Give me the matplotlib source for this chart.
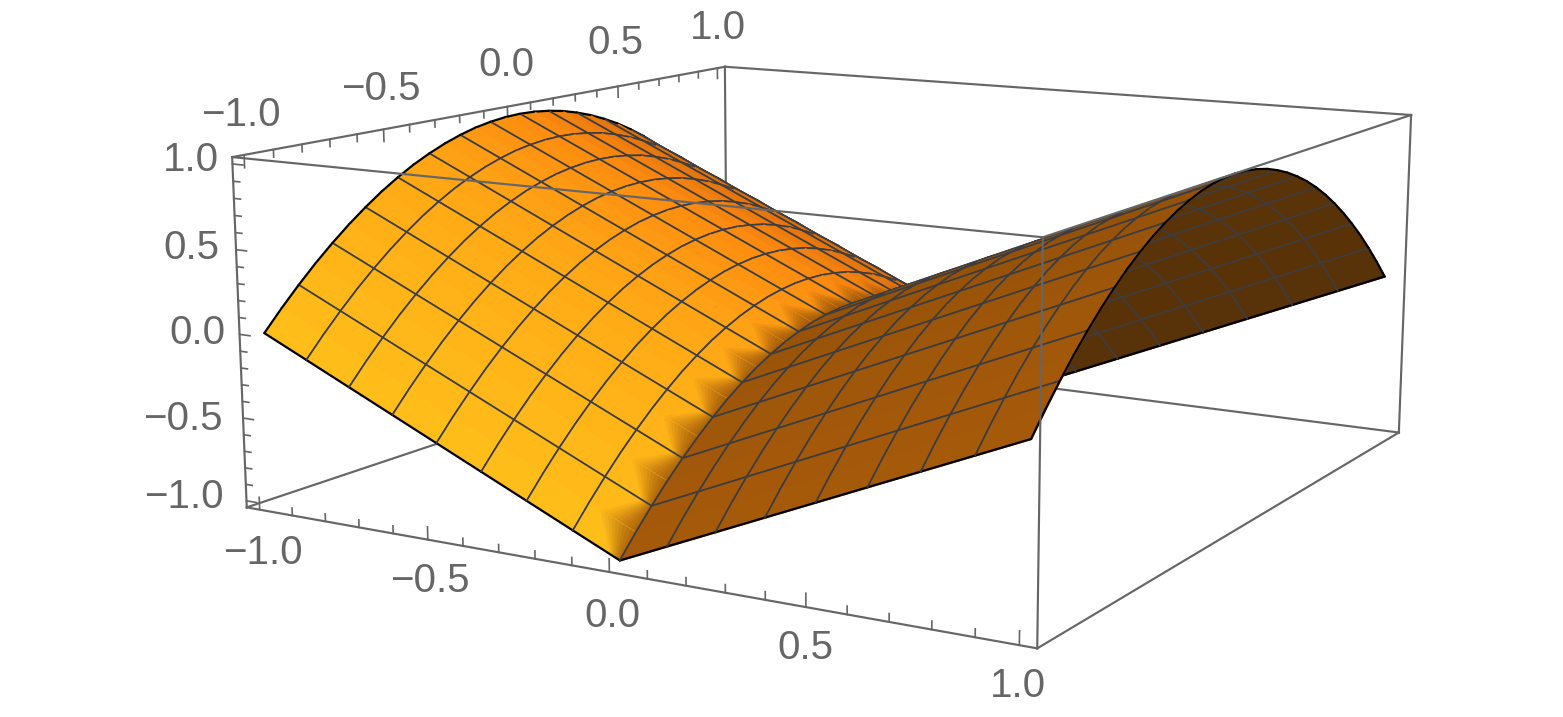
import numpy as np
import matplotlib
matplotlib.use("Agg")
import matplotlib.pyplot as plt
from mpl_toolkits.mplot3d.art3d import Poly3DCollection, Line3DCollection

# ---- data -----------------------------------------------------------------
x_grid = [-1, -.875, -.75, -.625, -.5, -.375, -.25, -.125, 0, .125, .25, .375, .5, .625, .75, .875, 1]
y_grid = [-1, -.9375, -.875, -.8125, -.75, -.6875, -.625, -.5625, -.5, -.4375, -.375, -.3125, -.25, -.1875, -.125, -.0625, 0,
          .0625, .125, .1875, .25, .3125, .375, .4375, .5, .5625, .625, .6875, .75, .8125, .875, .9375, 1]
z_at_x_100 = [0, .121, .234, .34, .437, .527, .609, .684, .75, .809, .859, .902, .937, .965, .984, .996, 1,
              .996, .984, .965, .937, .902, .859, .809, .75, .684, .609, .527, .437, .34, .234, .121, 0]
z_at_x_088 = [-.125, -.004, .109, .215, .312, .402, .484, .559, .625, .684, .734, .777, .812, .84, .859, .871, .875,
              .871, .859, .84, .812, .777, .734, .684, .625, .559, .484, .402, .312, .215, .109, -.004, -.125]
z_at_x_075 = [-.25, -.129, -.016, .09, .187, .277, .359, .434, .5, .559, .609, .652, .687, .715, .734, .746, .75,
              .746, .734, .715, .687, .652, .609, .559, .5, .434, .359, .277, .187, .09, -.016, -.129, -.25]
z_at_x_062 = [-.375, -.254, -.141, -.035, .062, .152, .234, .309, .375, .434, .484, .527, .562, .59, .609, .621, .625,
              .621, .609, .59, .562, .527, .484, .434, .375, .309, .234, .152, .062, -.035, -.141, -.254, -.375]
z_at_x_050 = [-.5, -.379, -.266, -.16, -.063, .027, .109, .184, .25, .309, .359, .402, .437, .465, .484, .496, .5,
              .496, .484, .465, .437, .402, .359, .309, .25, .184, .109, .027, -.063, -.16, -.266, -.379, -.5]
z_at_x_038 = [-.625, -.504, -.391, -.285, -.188, -.098, -.016, .059, .125, .184, .234, .277, .312, .34, .359, .371, .375,
              .371, .359, .34, .312, .277, .234, .184, .125, .059, -.016, -.098, -.188, -.285, -.391, -.504, -.625]
z_at_x_025 = [-.75, -.629, -.516, -.41, -.313, -.223, -.141, -.066, 0, .059, .109, .152, .187, .215, .234, .246, .25,
              .246, .234, .215, .187, .152, .109, .059, 0, -.066, -.141, -.223, -.313, -.41, -.516, -.629, -.75]
z_at_x_012 = [-.875, -.754, -.641, -.535, -.438, -.348, -.266, -.191, -.125, -.066, -.016, .027, .062, .09, .109, .121, .125,
              .121, .109, .09, .062, .027, -.016, -.066, -.125, -.191, -.266, -.348, -.438, -.535, -.641, -.754, -.875]
z_at_x_000 = [-1, -.879, -.766, -.66, -.563, -.473, -.391, -.316, -.25, -.191, -.141, -.098, -.063, -.035, -.016, -.004, 0,
              -.004, -.016, -.035, -.063, -.098, -.141, -.191, -.25, -.316, -.391, -.473, -.563, -.66, -.766, -.879, -1]
z_rows = [z_at_x_100, z_at_x_088, z_at_x_075, z_at_x_062, z_at_x_050, z_at_x_038, z_at_x_025, z_at_x_012, z_at_x_000,
          z_at_x_012, z_at_x_025, z_at_x_038, z_at_x_050, z_at_x_062, z_at_x_075, z_at_x_088, z_at_x_100]
major_ticks = [-1.0, -0.5, 0.0, 0.5, 1.0]
minor_ticks = [-.9, -.8, -.7, -.6, -.4, -.3, -.2, -.1, .1, .2, .3, .4, .6, .7, .8, .9]
tick_labels = ["\u22121.0", "\u22120.5", "0.0", "0.5", "1.0"]
box_limit = 1.04

# ---- layout / style -------------------------------------------------------
W, H = 1563, 717
GREY = "#666666"
MESH = "#3d3d40"
# camera calibration: cube corner -> pixel
calib = [
    ((-1, -1,  1), (232, 157)), ((-1,  1,  1), (725, 67)),
    (( 1, -1,  1), (1043, 237)), (( 1,  1,  1), (1411, 115)),
    ((-1, -1, -1), (247, 508)), ((-1,  1, -1), (727, 346)),
    (( 1, -1, -1), (1037, 648)), (( 1,  1, -1), (1399, 433)),
]
y_label_px = [(241, 115), (381, 89), (506, 65), (615, 43), (718, 28)]
z_label_px = [(184, 497), (183, 419), (197, 333), (191, 248), (191, 160)]
x_label_px = [(263, 553), (430, 581), (612, 616), (805, 648), (1018, 686)]

rows = []
for (c, (u, v)) in calib:
    X = np.array([*(np.array(c) * box_limit), 1.0])
    rows.append(np.r_[X, np.zeros(4), -u * X])
    rows.append(np.r_[np.zeros(4), X, -v * X])
P = np.linalg.svd(np.array(rows))[2][-1].reshape(3, 4)
P = P / P[2, 3]
camera = np.linalg.svd(P)[2][-1]
camera = camera[:3] / camera[3]
M = np.vstack([P[0], P[1], P[2] - np.array([0, 0, 0, .5]), P[2]])

fig = plt.figure(figsize=(W / 100, H / 100), dpi=100, facecolor="white")
ax = fig.add_axes([0, 0, 1, 1], projection="3d")
ax.set_axis_off()
ax.computed_zorder = False
ax.get_proj = lambda: M
ax.apply_aspect = lambda position=None: None
ax.viewLim.intervalx = (0, W)
ax.viewLim.intervaly = (H, 0)

xs = np.array(x_grid)
ys = np.array(y_grid)
Z = np.array(z_rows)


def ramp(t, knots, colours):
    return np.array([np.interp(t, knots, [c[k] for c in colours]) / 255 for k in range(3)])


def facet_colour(xm, ym, centre, normal):
    if np.dot(normal, camera - centre) < 0:        # seen from below
        return ramp(ym, [0, 1], [(92, 52, 8), (88, 50, 8)])
    if xm < 0:
        return ramp(ym, [-1, -.5, 0, .25, .5, 1],
                    [(255, 190, 26), (255, 170, 22), (253, 140, 16), (235, 122, 14), (212, 108, 14), (200, 100, 15)])
    return ramp(ym, [-1, 0, 1], [(166, 90, 10), (146, 80, 9), (146, 80, 9)])


def depth(p):
    return P[2] @ np.r_[p, 1.0]


zo = [10]


def poly(q, col, seam=.8):
    ax.add_collection3d(Poly3DCollection([q], facecolors=[col], edgecolors=[col], linewidths=seam, zorder=zo[0]),
                        autolim=False)
    zo[0] += 1


def line(q, col, lw):
    ax.add_collection3d(Line3DCollection([q], colors=col, linewidths=lw, zorder=zo[0], capstyle="round"),
                        autolim=False)
    zo[0] += 1


order = []
for i in range(16):
    for j in range(32):
        c = np.array([[xs[a], ys[b], Z[a, b]] for a, b in ((i, j), (i + 1, j), (i + 1, j + 1), (i, j + 1))]).mean(axis=0)
        order.append((depth(c), i, j))
order.sort(key=lambda t: -t[0])

CREASE_STEPS = [.095, .085, .075, .065, .055, .045, .035, .025, .015, .007]
CREASE_MIX = [.08, .16, .26, .36, .47, .58, .68, .78, .87, .94]
for _, i, j in order:
    q = np.array([[xs[a], ys[b], Z[a, b]] for a, b in ((i, j), (i + 1, j), (i + 1, j + 1), (i, j + 1))])
    c = q.mean(axis=0)
    n = np.cross(q[2] - q[0], q[3] - q[1])
    if n[2] < 0:
        n = -n
    col = facet_colour(c[0], c[1], c, n)
    poly(q, col)
    if i == 7:                                     # soft toothed shading next to the crease
        tip, val = (j + 1, j) if j % 2 == 0 else (j, j + 1)
        dark = ramp(c[1], [-1, 0, 1], [(170, 96, 12), (150, 84, 10), (146, 80, 9)])
        for d, mix in zip(CREASE_STEPS, CREASE_MIX):
            dv = d * .3
            t = [xs[8] - d, ys[tip], Z[8, tip] + d]
            v = [xs[8] - dv, ys[val], Z[8, val] + dv]
            poly(np.array([[xs[8], ys[tip], Z[8, tip]], t, v, [xs[8], ys[val], Z[8, val]]]),
                 col * (1 - mix) + dark * mix, seam=0)
    # mesh lines on this facet's sides
    for a, b in (((i, j), (i + 1, j)), ((i + 1, j + 1), (i, j + 1))):
        jj = a[1]
        if jj % 2 == 0:
            seg3 = np.array([[xs[p], ys[r], Z[p, r]] for p, r in (a, b)])
            if jj in (0, 32):
                line(seg3, "black", 1.6)
            else:
                line(seg3, MESH, 1.2)
    for ii in (i, i + 1):
        seg3 = np.array([[xs[ii], ys[r], Z[ii, r]] for r in (j, j + 1)])
        if ii in (0, 16):
            line(seg3, "black", 1.6)
        else:
            line(seg3, MESH, 1.2)

b = box_limit
back_edges = [((-b, -b, -b), (-b, b, -b)), ((-b, b, -b), (b, b, -b)), ((-b, b, -b), (-b, b, b)),
              ((-b, -b, b), (-b, b, b)), ((-b, b, b), (b, b, b)), ((b, b, -b), (b, b, b)),
              ((-b, -b, -b), (-b, -b, b))]
front_edges = [((-b, -b, b), (b, -b, b)), ((b, -b, b), (b, b, b)), ((b, -b, -b), (b, -b, b)),
               ((-b, -b, -b), (b, -b, -b)), ((b, -b, -b), (b, b, -b))]


def seg(p, q, z, lw=1.55):
    ax.add_collection3d(Line3DCollection([[p, q]], colors=GREY, linewidths=lw, zorder=z, capstyle="projecting"),
                        autolim=False)


for p, q in back_edges:
    seg(p, q, 1)
for p, q in front_edges:
    seg(p, q, 100000)

for ticks, zl, xl in ((major_ticks, .075, .032), (minor_ticks, .045, .02)):
    for t in ticks:
        seg((t, -b, -b), (t, -b, -b + zl), 100000, 1.2)   # x axis, bottom front
        seg((-b, t, b), (-b, t, b - zl), 1, 1.2)          # y axis, top left
        seg((-b, -b, t), (-b + xl, -b, t), 100000, 1.2)   # z axis, left

for labels_px in (y_label_px, z_label_px, x_label_px):
    for (u, v), s in zip(labels_px, tick_labels):
        fig.text(u / W, 1 - v / H, s, ha="center", va="center", color=GREY,
                 fontsize=29, family="Liberation Sans")

fig.savefig("out.png", dpi=100, facecolor="white")
